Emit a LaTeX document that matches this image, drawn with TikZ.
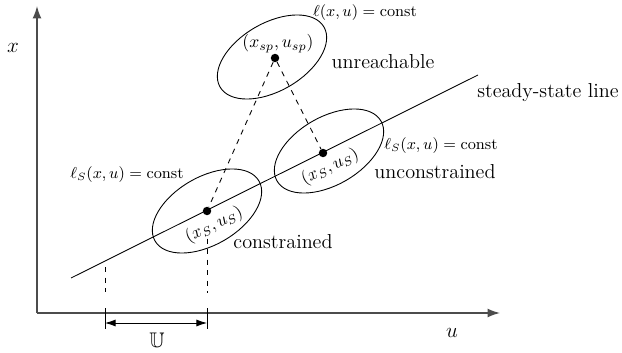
\documentclass[tikz,border=0pt]{standalone}
\usepackage{amsmath,amssymb}
\usetikzlibrary{arrows.meta,positioning}
\tikzset{
  axis/.style={draw=black!70,line width=0.8pt,-{Latex[length=7pt,width=5pt]}},
  level/.style={draw,line width=0.5pt},
  dot/.style={circle,fill,inner sep=1.7pt},
  lbl/.style={font=\fontsize{11.5}{14}\selectfont,inner sep=0pt},
  slbl/.style={font=\fontsize{9.2}{11}\selectfont,inner sep=0pt},
  ptlbl/.style={font=\fontsize{9.6}{11}\selectfont,inner sep=0pt}
}

\begin{document}
\begin{tikzpicture}[x=0.02cm,y=0.02cm,>=Latex]
  \useasboundingbox (0,0) rectangle (622,352);

  % axes
  \coordinate (O) at (37,39);
  \coordinate (xtop) at (37,346);
  \coordinate (uend) at (500,39);
  \draw[axis] (O) -- (xtop);
  \draw[axis] (O) -- (uend);
  \node[font=\fontsize{12}{14}\selectfont] (xl) at (13,304) {$x$};
  \node[font=\fontsize{12}{14}\selectfont] (ul) at (452,19) {$u$};

  % steady-state line
  \coordinate (ss0) at (71,74);
  \coordinate (ss1) at (478,277);
  \draw[line width=0.5pt] (ss0) -- (ss1);
  \node[lbl] (ssl) at (548,259) {steady-state line};

  % optimal points
  \node[dot] (sp) at (275,294) {};
  \node[dot] (sc) at (207,141) {};
  \node[dot] (su) at (323,199) {};

  % level sets
  \draw[level,rotate around={30:(272,295)}] (272,295) ellipse [x radius=1.2cm,y radius=0.68cm];
  \draw[level,rotate around={30:(207,141)}] (207,141) ellipse [x radius=1.2cm,y radius=0.68cm];
  \draw[level,rotate around={30:(329,201)}] (329,201) ellipse [x radius=1.2cm,y radius=0.68cm];

  \draw[dashed,line width=0.5pt] (sp) -- (sc);
  \draw[dashed,line width=0.5pt] (sp) -- (su);

  \node[ptlbl,anchor=south] (spl) at (278,299) {$(x_{sp},u_{sp})$};
  \node[ptlbl,rotate=26.6,anchor=north] (scl) at (210,135) {$(x_S,u_S)$};
  \node[ptlbl,rotate=26.6,anchor=north] (sul) at (326,193) {$(x_S,u_S)$};

  \node[lbl] (unr) at (383,290) {unreachable};
  \node[lbl] (unc) at (435,180) {unconstrained};
  \node[lbl] (con) at (283,110) {constrained};

  \node[slbl] (lsp) at (365,339) {$\ell(x,u) = \mathrm{const}$};
  \node[slbl] (lsu) at (441,206) {$\ell_S(x,u) = \mathrm{const}$};
  \node[slbl] (lsc) at (127,177) {$\ell_S(x,u) = \mathrm{const}$};

  % input range
  \coordinate (uLa) at (105,85);
  \coordinate (uLb) at (105,60);
  \coordinate (uRb) at (207,59);
  \draw[dashed,line width=0.5pt] (uLa) -- (uLb);
  \draw[dashed,line width=0.5pt,shorten <=0.46cm] (sc) -- (uRb);

  \coordinate (tL0) at (105,44);
  \coordinate (tL1) at (105,23);
  \coordinate (tR0) at (207,44);
  \coordinate (tR1) at (207,23);
  \draw[line width=0.5pt] (tL0) -- (tL1);
  \draw[line width=0.5pt] (tR0) -- (tR1);
  \coordinate (aL) at (105,29);
  \coordinate (aR) at (207,29);
  \draw[line width=0.5pt,{Latex[length=6pt,width=4pt]}-{Latex[length=6pt,width=4pt]}] (aL) -- (aR);
  \node[font=\fontsize{12}{14}\selectfont] (Ul) at (157,12) {$\mathbb{U}$};
\end{tikzpicture}
\end{document}
